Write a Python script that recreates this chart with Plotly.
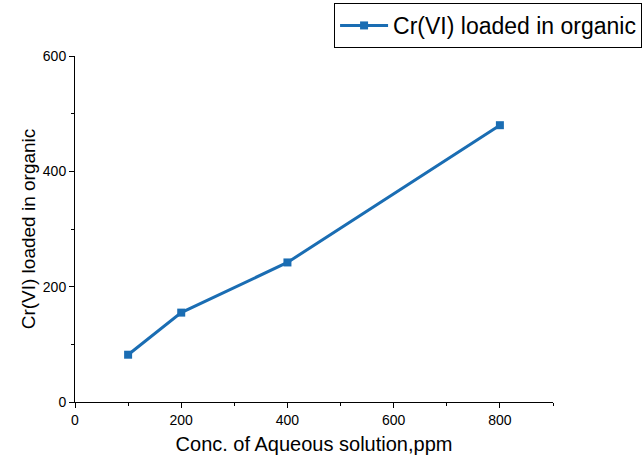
import plotly.graph_objects as go

conc = [100, 200, 400, 800]
loaded = [82, 155, 242, 480]
x_ticks = [0, 200, 400, 600, 800]
y_ticks = [0, 200, 400, 600]

fig = go.Figure()
fig.add_trace(go.Scatter(
    x=conc, y=loaded, mode="lines+markers",
    name="Cr(VI) loaded in organic",
    line=dict(color="#1a6db3", width=3),
    marker=dict(symbol="square", size=8, color="#1a6db3"),
))

axis_common = dict(
    showgrid=False, zeroline=False, showline=True, linecolor="black", linewidth=1,
    ticks="outside", ticklen=5, tickwidth=1, tickcolor="black",
    tickfont=dict(family="Liberation Sans, Arial", size=14, color="black"),
    minor=dict(ticks="outside", ticklen=3, tickwidth=1, tickcolor="black", dtick=100),
)

fig.update_layout(
    width=644, height=459,
    margin=dict(l=75, r=91, t=56, b=57, autoexpand=False),
    paper_bgcolor="white", plot_bgcolor="white",
    font=dict(family="Liberation Sans, Arial", color="black"),
    xaxis=dict(range=[0, 900], tickvals=x_ticks, ticktext=[str(v) for v in x_ticks],
               title=dict(text="Conc. of Aqueous solution,ppm", font=dict(size=20), standoff=10),
               **axis_common),
    yaxis=dict(range=[0, 600], tickvals=y_ticks, ticktext=[str(v) for v in y_ticks],
               title=dict(text="Cr(VI) loaded in organic", font=dict(size=19), standoff=2),
               **axis_common),
    showlegend=True,
    legend=dict(xref="container", yref="container", x=0.997, y=0.9935,
                xanchor="right", yanchor="top",
                bordercolor="black", borderwidth=1, bgcolor="white",
                font=dict(family="Liberation Sans, Arial", size=23, color="black"),
                itemwidth=48, tracegroupgap=0),
)

fig.write_html("out.html")
